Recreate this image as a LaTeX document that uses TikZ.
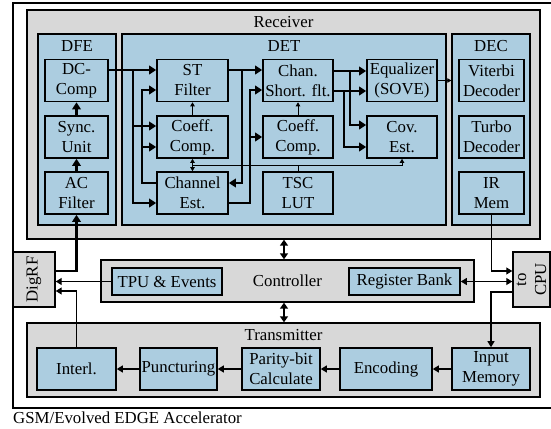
\documentclass[tikz,border=0pt]{standalone}
\usepackage{fontspec}
\setmainfont{Liberation Serif}
\usetikzlibrary{arrows.meta, positioning, calc}
\definecolor{blkblue}{RGB}{172,205,224}
\definecolor{grpgray}{RGB}{216,216,216}

\begin{document}
\begin{tikzpicture}[x=1pt, y=-1pt, font=\fontsize{16.8}{20}\selectfont, align=center,
    grp/.style={draw, line width=1.4pt, fill=grpgray, inner sep=0pt},
    sub/.style={draw, line width=1.4pt, fill=blkblue, inner sep=0pt},
    blk/.style={draw, line width=1.6pt, fill=blkblue, inner sep=1pt, minimum height=42},
    ttl/.style={label={[anchor=north, inner sep=3pt, yshift=-4pt]north:#1}},
    fatarr/.style={line width=2.8pt, -{Triangle[length=7pt, width=8.5pt]}},
    thinarr/.style={line width=1.1pt, -{Triangle[length=6pt, width=7pt]}},
    tinyarr/.style={line width=0.8pt, -{Triangle[length=4pt, width=4.5pt]}},
    tinyduplex/.style={line width=0.8pt, {Triangle[length=4pt, width=4.5pt]}-{Triangle[length=4pt, width=4.5pt]}},
    thinduplex/.style={line width=1.1pt, {Triangle[length=6pt, width=7pt]}-{Triangle[length=6pt, width=7pt]}},
    duplex/.style={line width=1.8pt, {Triangle[length=6pt, width=8pt]}-{Triangle[length=6pt, width=8pt]}}]
    \useasboundingbox (0,0) rectangle (551,428);
    \draw[line width=1.4pt] (551,3) -| (13,408) -- (551,408);
    \node[anchor=west, inner sep=0pt] (capt) at (13,418) {GSM/Evolved EDGE Accelerator};

    \node[grp, minimum width=513, minimum height=229, ttl=Receiver] (recv) at (283.5,124.5) {};
    \node[sub, minimum width=78, minimum height=191, ttl=DFE] (dfe) at (77,129.5) {};
    \node[sub, minimum width=324, minimum height=191, ttl=DET] (det) at (284,129.5) {};
    \node[sub, minimum width=78, minimum height=191, ttl=DEC] (dec) at (491,129.5) {};

    \node[blk, minimum width=63] (dccomp) at (76.5,80.5) {DC-\\Comp};
    \node[blk, minimum width=63] (sync) at (76.5,137) {Sync.\\Unit};
    \node[blk, minimum width=63] (acflt) at (76.5,193) {AC\\Filter};
    \node[blk, minimum width=71] (stflt) at (192.5,80.5) {ST\\Filter};
    \node[blk, minimum width=71] (coefst) at (192.5,137) {Coeff.\\Comp.};
    \node[blk, minimum width=71] (chest) at (192.5,193) {Channel\\Est.};
    \node[blk, minimum width=70] (csflt) at (298,80.5) {Chan.\\Short. flt.};
    \node[blk, minimum width=70] (coefcs) at (298,137) {Coeff.\\Comp.};
    \node[blk, minimum width=70] (tsc) at (298,193) {TSC\\LUT};
    \node[blk, minimum width=70] (equ) at (402,80.5) {Equalizer\\(SOVE)};
    \node[blk, minimum width=70] (cov) at (402,137) {Cov.\\Est.};
    \node[blk, minimum width=65] (vit) at (491.5,80.5) {Viterbi\\Decoder};
    \node[blk, minimum width=65] (turbo) at (491.5,137) {Turbo\\Decoder};
    \node[blk, minimum width=65] (irmem) at (491.5,193) {IR\\Mem};

    \node[grp, minimum width=373, minimum height=42] (ctrl) at (287.5,281) {Controller};
    \node[blk, minimum width=110, minimum height=27] (tpu) at (167,281.5) {TPU \& Events};
    \node[blk, minimum width=111, minimum height=27] (regb) at (404.5,281.5) {Register Bank};

    \node[grp, minimum width=513, minimum height=74, ttl=Transmitter] (tx) at (283.5,360) {};
    \node[blk, minimum width=79] (interl) at (76.5,369) {Interl.};
    \node[blk, minimum width=77] (punc) at (178.5,369) {Puncturing};
    \node[blk, minimum width=78] (parity) at (281,369) {Parity-bit\\Calculate};
    \node[blk, minimum width=92] (enc) at (386,369) {Encoding};
    \node[blk, minimum width=78] (inmem) at (491,369) {Input\\Memory};

    \node[grp, minimum width=42, minimum height=55] (digrf) at (34,279.5) {};
    \node[rotate=90] at (digrf) {DigRF};
    \node[grp, minimum width=37, minimum height=55] (tocpu) at (531.5,279.5) {};
    \node[rotate=90] at (tocpu) {to\\CPU};

    \coordinate (dcsplit) at (133,70);
    \draw[fatarr] (dccomp.east |- dcsplit) -- (stflt.west |- dcsplit);
    \draw[fatarr] (dcsplit) |- (coefst.west |- 0,126);
    \draw[fatarr] (dcsplit) |- (chest.west |- 0,203);
    \draw[fatarr] (chest.west |- 0,183) -| (142,90) -- (stflt.west |- 0,90);
    \draw[fatarr] (142,147) -- (coefst.west |- 0,147);
    \draw[fatarr] (stflt.east |- dcsplit) -- (csflt.west |- dcsplit);
    \draw[fatarr] (242,70) |- (chest.east |- 0,183);
    \draw[fatarr] (chest.east |- 0,203) -| (250,90) -- (csflt.west |- 0,90);
    \draw[fatarr] (250,137) -- (coefcs.west);
    \draw[fatarr] (csflt.east |- 0,71) -- (equ.west |- 0,71);
    \draw[fatarr] (350,71) |- (cov.west |- 0,125);
    \draw[fatarr] (csflt.east |- 0,91) -- (equ.west |- 0,91);
    \draw[fatarr] (344,91) |- (cov.west |- 0,147);
    \draw[fatarr] (digrf.east |- 0,271) -| (acflt.south);

    \draw[fatarr] (sync.north) -- (dccomp.south);
    \draw[fatarr] (acflt.north) -- (sync.south);

    \draw[tinyarr] (coefst.north) -- (stflt.south);
    \draw[tinyarr] (coefcs.north) -- (csflt.south);
    \coordinate (bus) at (298,165);
    \draw[line width=0.8pt] (tsc.north) -- (bus) -- (coefst.south |- bus);
    \draw[tinyarr] (bus) -| (cov.south);
    \draw[tinyduplex] (coefst.south) -- (chest.north);
    \draw[tinyarr] (equ.east) -- (dec.west |- equ.east);

    \draw[duplex] (recv.south -| 284,0) -- (ctrl.north -| 284,0);
    \draw[duplex] (ctrl.south -| 284,0) -- (tx.north -| 284,0);

    \draw[thinarr] (tpu.west) -- (digrf.east |- tpu.west);
    \draw[thinarr] (interl.north) |- (digrf.east |- 0,291);
    \draw[thinarr] (irmem.south) |- (tocpu.west |- 0,271);
    \draw[thinduplex] (regb.east) -- (tocpu.west |- regb.east);
    \draw[thinarr] (tocpu.west |- 0,292) -| (inmem.north);
    \draw[thinarr] (inmem.west) -- (enc.east);
    \draw[thinarr] (enc.west) -- (parity.east);
    \draw[thinarr] (parity.west) -- (punc.east);
    \draw[thinarr] (punc.west) -- (interl.east);
\end{tikzpicture}
\end{document}
